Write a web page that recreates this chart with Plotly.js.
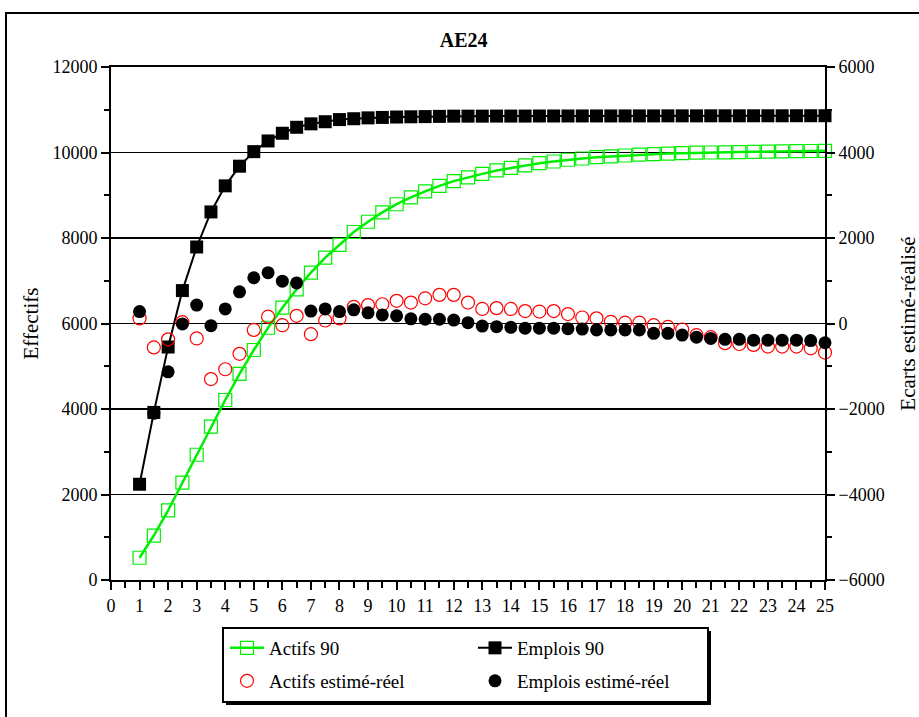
<!DOCTYPE html>
<html>
<head>
<meta charset="utf-8">
<script src="https://cdn.plot.ly/plotly-3.0.1.min.js"></script>
<style>
html,body{margin:0;padding:0;background:#fff;}
#wrap{position:relative;width:919px;height:717px;overflow:hidden;}
#chart{position:absolute;left:0;top:0;width:935px;height:717px;}
#frame{position:absolute;left:5px;top:12px;width:940px;height:740px;border:2px solid #000;pointer-events:none;box-sizing:border-box;}
</style>
</head>
<body>
<div id="wrap"><div id="chart"></div><div id="frame"></div></div>
<script>
const xVals = [1,1.5,2,2.5,3,3.5,4,4.5,5,5.5,6,6.5,7,7.5,8,8.5,9,9.5,10,10.5,11,11.5,12,12.5,13,13.5,14,14.5,15,15.5,16,16.5,17,17.5,18,18.5,19,19.5,20,20.5,21,21.5,22,22.5,23,23.5,24,24.5,25];
const actifs90 = [520,1040,1630,2280,2930,3590,4210,4820,5380,5900,6370,6800,7190,7540,7840,8140,8380,8600,8790,8950,9090,9220,9330,9420,9500,9580,9640,9700,9750,9790,9830,9860,9890,9910,9930,9950,9960,9975,9985,9995,10000,10005,10010,10015,10020,10025,10030,10035,10040];
const emplois90 = [2240,3920,5450,6770,7790,8610,9220,9680,10020,10270,10450,10590,10670,10720,10770,10790,10810,10820,10830,10835,10840,10845,10850,10850,10850,10852,10852,10852,10854,10854,10854,10855,10855,10855,10856,10856,10856,10857,10857,10857,10858,10858,10858,10859,10859,10859,10860,10860,10860];
const actifsEcart = [120,-560,-370,30,-350,-1300,-1070,-710,-150,160,-40,180,-250,70,120,390,430,450,530,490,590,670,670,490,340,360,340,290,280,290,220,140,120,40,20,20,-40,-80,-140,-270,-320,-460,-480,-500,-540,-540,-540,-580,-680];
const emploisEcart = [280,-2100,-1130,-10,430,-50,340,740,1070,1190,990,950,290,340,280,320,250,200,180,110,100,100,80,20,-60,-75,-90,-110,-110,-110,-120,-130,-150,-150,-150,-150,-230,-230,-270,-320,-350,-370,-370,-390,-390,-390,-390,-400,-450];
const seriesNames = ['Actifs 90','Emplois 90','Actifs estimé-réel','Emplois estimé-réel'];

const F = "Liberation Serif, Times New Roman, serif";
const traces = [
  {x:xVals, y:actifs90, name:seriesNames[0], type:'scatter', mode:'lines+markers', cliponaxis:false, legend:'legend',
   line:{color:'#00ee00', width:2.5},
   marker:{symbol:'square-open', size:13, color:'#00ee00', line:{width:1.2, color:'#00ee00'}}},
  {x:xVals, y:emplois90, name:seriesNames[1], type:'scatter', mode:'lines+markers', cliponaxis:false, legend:'legend',
   line:{color:'#000', width:2},
   marker:{symbol:'square', size:13, color:'#000'}},
  {x:xVals, y:actifsEcart, name:seriesNames[2], type:'scatter', mode:'markers', yaxis:'y2', cliponaxis:false, legend:'legend2',
   marker:{symbol:'circle-open', size:13, color:'#ff0000', line:{width:1.2, color:'#ff0000'}}},
  {x:xVals, y:emploisEcart, name:seriesNames[3], type:'scatter', mode:'markers', yaxis:'y2', cliponaxis:false, legend:'legend2',
   marker:{symbol:'circle', size:13, color:'#000'}}
];

const tickFont = {family:F, size:18, color:'#000'};
const legFont = {family:F, size:19, color:'#000'};
const px2x = p => (p - 111) / 714;
const px2y = p => (580 - p) / 513;

const layout = {
  width:935, height:717,
  margin:{l:111, r:110, t:67, b:137},
  paper_bgcolor:'#fff', plot_bgcolor:'#fff',
  font:{family:F, size:18, color:'#000'},
  showlegend:true,
  title:{text:'<b>AE24</b>', font:{family:F, size:20, color:'#000'}, x:0.494, xref:'paper', xanchor:'center', y:0.944, yref:'container', yanchor:'middle'},
  xaxis:{range:[0,25], dtick:1, tick0:0, showgrid:false, zeroline:false,
    showline:true, linecolor:'#000', linewidth:2, mirror:true,
    ticks:'outside', ticklen:8, tickwidth:2, tickcolor:'#000',
    minor:{dtick:0.5, ticks:'outside', ticklen:6, tickwidth:2, tickcolor:'#000'},
    tickfont:tickFont},
  yaxis:{range:[0,12000], dtick:2000, tick0:0, tickformat:'d', showgrid:true, gridcolor:'#000', gridwidth:1.5, zeroline:false,
    showline:true, linecolor:'#000', linewidth:2,
    ticks:'outside', ticklen:8, tickwidth:2, tickcolor:'#000',
    minor:{dtick:1000, ticks:'outside', ticklen:5, tickwidth:2, tickcolor:'#000', showgrid:false},
    tickfont:tickFont,
    title:{text:'Effectifs', font:{family:F, size:21}, standoff:8}},
  yaxis2:{range:[-6000,6000], dtick:2000, tick0:0, tickformat:'d', overlaying:'y', side:'right', showgrid:false, zeroline:false,
    showline:true, linecolor:'#000', linewidth:2,
    ticks:'outside', ticklen:8, tickwidth:2, tickcolor:'#000',
    minor:{dtick:1000, ticks:'outside', ticklen:5, tickwidth:2, tickcolor:'#000'},
    tickfont:tickFont,
    title:{text:'Ecarts estimé-réalisé', font:{family:F, size:21}, standoff:17}},
  legend:{orientation:'h', x:px2x(225), xanchor:'left', y:px2y(648), yanchor:'middle',
    bgcolor:'rgba(0,0,0,0)', borderwidth:0, font:legFont,
    entrywidth:199, entrywidthmode:'pixels', traceorder:'normal', itemwidth:34},
  legend2:{orientation:'h', x:px2x(225), xanchor:'left', y:px2y(681), yanchor:'middle',
    bgcolor:'rgba(0,0,0,0)', borderwidth:0, font:legFont,
    entrywidth:199, entrywidthmode:'pixels', traceorder:'normal', itemwidth:34},
  shapes:[
    {type:'rect', xref:'paper', yref:'paper', x0:px2x(226), x1:px2x(711), y0:px2y(705), y1:px2y(631),
     fillcolor:'#000', line:{width:0}, layer:'above'},
    {type:'rect', xref:'paper', yref:'paper', x0:px2x(223), x1:px2x(708), y0:px2y(702), y1:px2y(628),
     fillcolor:'#fff', line:{width:2, color:'#000'}, layer:'above'}
  ]
};

Plotly.newPlot('chart', traces, layout, {displayModeBar:false, staticPlot:true});
</script>
</body>
</html>
